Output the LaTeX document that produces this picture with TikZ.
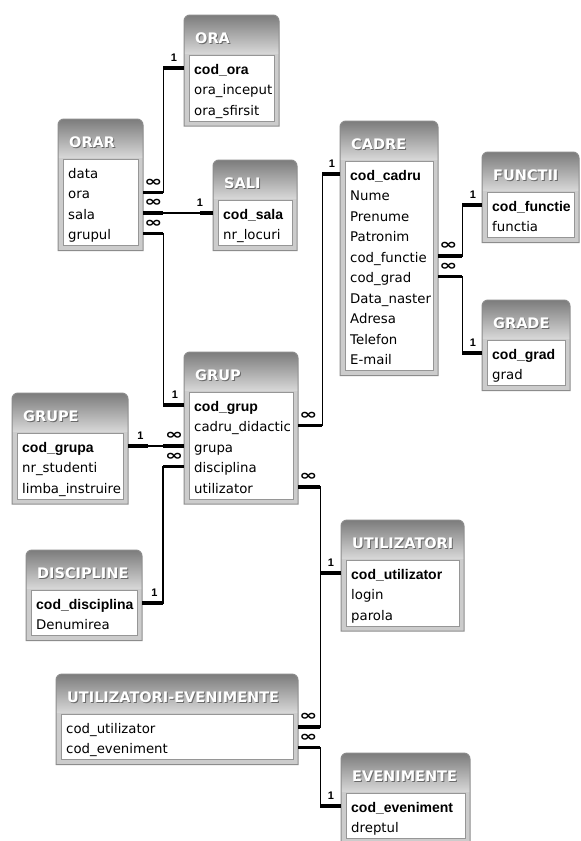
\documentclass[tikz,border=0pt]{standalone}
\usepackage{graphicx}
\usepackage{fontspec}
\setmainfont{DejaVu Sans}
\newfontfamily\keyfont{Liberation Sans}
\newfontfamily\symfont{DejaVu Sans}
\definecolor{ttop}{RGB}{124,124,124}
\definecolor{tbot}{RGB}{214,214,214}
\definecolor{frm}{RGB}{204,204,204}
\definecolor{frmline}{RGB}{140,140,140}
\definecolor{pnl}{RGB}{150,150,150}
\definecolor{tshadow}{RGB}{105,105,105}
\tikzset{
  fld/.style={anchor=west, inner xsep=10pt, inner ysep=0pt, text height=12pt, text depth=0pt, align=left, font=\fontsize{13.3}{16}\selectfont},
  keyfld/.style={fld, font=\keyfont\bfseries\fontsize{14}{16}\selectfont},
  ttl/.style={anchor=base west, inner sep=0pt, font=\bfseries\fontsize{14.5}{17}\selectfont, text=white},
  rel/.style={draw=black, line width=1.3pt},
  relend/.style={draw=black, line width=3.5pt},
  one/.style={inner sep=0pt, font=\keyfont\bfseries\fontsize{11}{12}\selectfont},
  many/.style={inner sep=0pt, font=\symfont\bfseries\fontsize{12}{12}\selectfont},
}
% #1 id, #2 x1, #3 x2, #4 top, #5 title, #6 rows, #7 row list, #8 first row is key
\newcommand\dbtbl[8]{%
  \pgfmathsetmacro\tB{#4+56+20.5*(#6-1)+14}%
  \pgfmathsetmacro\tTW{#3-#2-20}%
  \begin{scope}
    \clip (#2,\tB) -- (#2,#4+6) arc[start angle=180,end angle=90,radius=6pt] -- (#3-6,#4) arc[start angle=90,end angle=0,radius=6pt] -- (#3,\tB) -- cycle;
    \fill[frm] (#2,#4) rectangle (#3,\tB);
    \shade[top color=ttop, bottom color=tbot] (#2,#4) rectangle (#3,#4+38);
  \end{scope}
  \draw[frmline, line width=1pt] (#2,\tB) -- (#2,#4+6) arc[start angle=180,end angle=90,radius=6pt] -- (#3-6,#4) arc[start angle=90,end angle=0,radius=6pt] -- (#3,\tB) -- cycle;
  \fill[white] (#2+5,#4+40) rectangle (#3-5,\tB-5);
  \draw[pnl, line width=0.8pt] (#2+5,#4+40) rectangle (#3-5,\tB-5);
  \node[ttl, text=tshadow] at (#2+12,#4+29) {#5};
  \node[ttl] (#1) at (#2+11,#4+28) {#5};
  \foreach \txt [count=\i from 0] in {#7} {
    \ifnum\i=0\relax
      \ifnum#8=1\relax \tikzset{rowstyle/.style={keyfld}}\else\tikzset{rowstyle/.style={fld}}\fi
    \else
      \tikzset{rowstyle/.style={fld}}
    \fi
    \node[rowstyle, text width=\tTW pt] (#1-\i) at (#2,#4+53+20.5*\i) {\txt};
  }
}
\newcommand\manysym{\scalebox{1.8}[1.2]{∞}}
\begin{document}
\begin{tikzpicture}[x=1pt,y=-1pt]
\useasboundingbox (0,0) rectangle (581,841);
\fill[white] (0,0) rectangle (581,841);
\clip (0,0) rectangle (581,841);

\dbtbl{ora}{184}{279}{15}{ORA}{3}{cod\_ora,ora\_inceput,ora\_sfirsit}{1}
\dbtbl{orar}{58}{143}{119}{ORAR}{4}{data,ora,sala,grupul}{0}
\dbtbl{sali}{213}{297}{160}{SALI}{2}{cod\_sala,nr\_locuri}{1}
\dbtbl{cadre}{340}{438}{121}{CADRE}{10}{cod\_cadru,Nume,Prenume,Patronim,cod\_functie,cod\_grad,Data\_naster,Adresa,Telefon,E-mail}{1}
\dbtbl{functii}{482}{579}{152}{FUNCTII}{2}{cod\_functie,functia}{1}
\dbtbl{grade}{482}{570}{300}{GRADE}{2}{cod\_grad,grad}{1}
\dbtbl{grup}{184}{298}{352}{GRUP}{5}{cod\_grup,cadru\_didactic,grupa,disciplina,utilizator}{1}
\dbtbl{grupe}{12}{128}{393}{GRUPE}{3}{cod\_grupa,nr\_studenti,limba\_instruire}{1}
\dbtbl{discipline}{26}{142}{550}{DISCIPLINE}{2}{cod\_disciplina,Denumirea}{1}
\dbtbl{utilizatori}{341}{464}{520}{UTILIZATORI}{3}{cod\_utilizator,login,parola}{1}
\dbtbl{ue}{56}{298}{674}{UTILIZATORI-EVENIMENTE}{2}{cod\_utilizator,cod\_eveniment}{0}
\dbtbl{evenimente}{341}{470}{753}{EVENIMENTE}{2}{cod\_eveniment,dreptul}{1}

% ORAR.ora -> ORA.cod_ora
\draw[rel] (orar-1.east) -- ++(20,0) |- (ora-0.west);
\draw[relend] (orar-1.east) -- ++(20,0);
\draw[relend] (ora-0.west) -- ++(-21,0);
\node[many] at ([xshift=10pt,yshift=10pt]orar-1.east) {\manysym};
\node[one] at ([xshift=-10pt,yshift=10pt]ora-0.west) {1};

% ORAR.sala -> SALI.cod_sala
\draw[rel] (orar-2.east) -- (sali-0.west);
\draw[relend] (orar-2.east) -- ++(20,0);
\draw[relend] (sali-0.west) -- ++(-13,0);
\node[many] at ([xshift=10pt,yshift=10pt]orar-2.east) {\manysym};
\node[one] at ([xshift=-13pt,yshift=10pt]sali-0.west) {1};

% ORAR.grupul -> GRUP.cod_grup
\draw[rel] (orar-3.east) -- ++(20,0) |- (grup-0.west);
\draw[relend] (orar-3.east) -- ++(20,0);
\draw[relend] (grup-0.west) -- ++(-21,0);
\node[many] at ([xshift=10pt,yshift=10pt]orar-3.east) {\manysym};
\node[one] at ([xshift=-9pt,yshift=10pt]grup-0.west) {1};

% GRUP.cadru_didactic -> CADRE.cod_cadru
\draw[rel] (grup-1.east) -- ++(24,0) |- (cadre-0.west);
\draw[relend] (grup-1.east) -- ++(24,0);
\draw[relend] (cadre-0.west) -- ++(-18,0);
\node[many] at ([xshift=10pt,yshift=10pt]grup-1.east) {\manysym};
\node[one] at ([xshift=-8pt,yshift=10pt]cadre-0.west) {1};

% CADRE.cod_functie -> FUNCTII.cod_functie
\draw[rel] (cadre-4.east) -- ++(24,0) |- (functii-0.west);
\draw[relend] (cadre-4.east) -- ++(24,0);
\draw[relend] (functii-0.west) -- ++(-20,0);
\node[many] at ([xshift=10pt,yshift=10pt]cadre-4.east) {\manysym};
\node[one] at ([xshift=-9pt,yshift=10pt]functii-0.west) {1};

% CADRE.cod_grad -> GRADE.cod_grad
\draw[rel] (cadre-5.east) -- ++(24,0) |- (grade-0.west);
\draw[relend] (cadre-5.east) -- ++(24,0);
\draw[relend] (grade-0.west) -- ++(-20,0);
\node[many] at ([xshift=10pt,yshift=10pt]cadre-5.east) {\manysym};
\node[one] at ([xshift=-9pt,yshift=10pt]grade-0.west) {1};

% GRUP.grupa -> GRUPE.cod_grupa
\draw[rel] (grup-2.west) -- (grupe-0.east);
\draw[relend] (grupe-0.east) -- ++(20,0);
\draw[relend] (grup-2.west) -- ++(-21,0);
\node[one] at ([xshift=12pt,yshift=10pt]grupe-0.east) {1};
\node[many] at ([xshift=-10pt,yshift=10pt]grup-2.west) {\manysym};

% GRUP.disciplina -> DISCIPLINE.cod_disciplina
\draw[rel] (grup-3.west) -- ++(-21,0) |- (discipline-0.east);
\draw[relend] (grup-3.west) -- ++(-21,0);
\draw[relend] (discipline-0.east) -- ++(21,0);
\node[many] at ([xshift=-10pt,yshift=10pt]grup-3.west) {\manysym};
\node[one] at ([xshift=12pt,yshift=10pt]discipline-0.east) {1};

% GRUP.utilizator -> UTILIZATORI.cod_utilizator
\draw[rel] (grup-4.east) -- ++(22,0) |- (utilizatori-0.west);
\draw[relend] (grup-4.east) -- ++(22,0);
\draw[relend] (utilizatori-0.west) -- ++(-21,0);
\node[many] at ([xshift=10pt,yshift=10pt]grup-4.east) {\manysym};
\node[one] at ([xshift=-10pt,yshift=10pt]utilizatori-0.west) {1};

% UTILIZATORI-EVENIMENTE.cod_utilizator -> UTILIZATORI.cod_utilizator
\draw[rel] (ue-0.east) -- ++(22,0) |- (utilizatori-0.west);
\draw[relend] (ue-0.east) -- ++(22,0);
\node[many] at ([xshift=10pt,yshift=10pt]ue-0.east) {\manysym};

% UTILIZATORI-EVENIMENTE.cod_eveniment -> EVENIMENTE.cod_eveniment
\draw[rel] (ue-1.east) -- ++(22,0) |- (evenimente-0.west);
\draw[relend] (ue-1.east) -- ++(22,0);
\draw[relend] (evenimente-0.west) -- ++(-21,0);
\node[many] at ([xshift=10pt,yshift=10pt]ue-1.east) {\manysym};
\node[one] at ([xshift=-10pt,yshift=10pt]evenimente-0.west) {1};
\end{tikzpicture}
\end{document}
